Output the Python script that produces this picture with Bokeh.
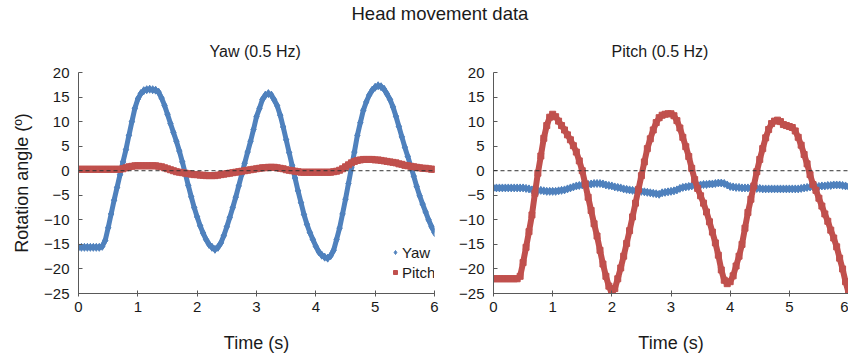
from bokeh.plotting import figure
from bokeh.layouts import column, row
from bokeh.models import Span, Legend, LegendItem, Range1d, FixedTicker
from bokeh.embed import file_html
from bokeh.resources import INLINE

time_s = [round(i * 0.05, 2) for i in range(121)]

yaw_in_yaw_test = [
    -15.6, -15.6, -15.6, -15.6, -15.6, -15.6, -15.6, -15.6, -15.4, -14.2,
    -11.6, -8.8, -6.0, -3.4, -0.8, 1.8, 4.3, 7.2, 10.0, 12.7,
    14.6, 15.7, 16.3, 16.5, 16.6, 16.5, 16.4, 16.0, 14.8, 13.3,
    11.5, 9.6, 7.8, 6.0, 4.0, 1.8, -0.6, -3.0, -5.3, -7.5,
    -9.4, -11.2, -12.7, -14.0, -15.0, -15.6, -16.0, -15.6, -14.7, -13.2,
    -11.4, -9.5, -7.5, -5.4, -3.1, -0.8, 1.5, 3.8, 6.0, 8.4,
    11.0, 12.7, 14.5, 15.4, 15.7, 15.4, 14.4, 13.2, 11.3, 8.9,
    6.3, 3.7, 1.1, -1.5, -4.1, -6.5, -8.9, -10.9, -12.6, -14.0,
    -15.4, -16.5, -17.2, -17.6, -17.8, -17.3, -16.2, -14.0, -11.7, -8.8,
    -5.8, -2.6, 0.6, 3.8, 7.2, 9.8, 12.3, 14.0, 15.4, 16.4,
    17.0, 17.3, 17.1, 16.6, 15.6, 14.5, 13.0, 11.1, 9.0, 6.9,
    4.8, 2.9, 0.9, -1.1, -3.2, -5.1, -6.8, -8.4, -10.0, -11.4,
    -12.6,
]
pitch_in_yaw_test = [
    0.3, 0.3, 0.3, 0.3, 0.3, 0.3, 0.3, 0.3, 0.3, 0.3,
    0.3, 0.3, 0.3, 0.3, 0.3, 0.4, 0.6, 0.8, 0.9, 1.0,
    1.0, 1.0, 1.0, 1.0, 1.0, 1.0, 1.0, 0.9, 0.8, 0.6,
    0.4, 0.2, 0.0, -0.2, -0.3, -0.4, -0.5, -0.6, -0.7, -0.8,
    -0.8, -0.9, -0.9, -1.0, -1.0, -1.0, -1.0, -0.9, -0.8, -0.7,
    -0.6, -0.5, -0.4, -0.3, -0.2, -0.1, 0.0, 0.1, 0.2, 0.3,
    0.4, 0.5, 0.6, 0.6, 0.7, 0.7, 0.7, 0.6, 0.5, 0.4,
    0.2, 0.1, 0.0, -0.1, -0.2, -0.3, -0.3, -0.3, -0.3, -0.3,
    -0.3, -0.3, -0.3, -0.3, -0.3, -0.3, -0.2, -0.1, 0.1, 0.4,
    0.8, 1.2, 1.6, 1.9, 2.1, 2.2, 2.3, 2.3, 2.3, 2.3,
    2.2, 2.2, 2.1, 2.0, 1.9, 1.8, 1.7, 1.6, 1.4, 1.3,
    1.1, 1.0, 0.9, 0.8, 0.7, 0.6, 0.5, 0.5, 0.4, 0.3,
    0.3,
]
yaw_in_pitch_test = [
    -3.5, -3.5, -3.5, -3.5, -3.5, -3.5, -3.5, -3.5, -3.5, -3.5,
    -3.5, -3.6, -3.7, -3.9, -4.1, -4.1, -4.0, -4.1, -4.2, -4.2,
    -4.2, -4.2, -4.1, -4.0, -3.9, -3.7, -3.5, -3.3, -3.1, -3.0,
    -2.9, -2.8, -2.8, -2.7, -2.6, -2.6, -2.6, -2.7, -2.9, -3.0,
    -3.1, -3.3, -3.4, -3.5, -3.7, -3.8, -3.9, -4.0, -4.1, -4.2,
    -4.2, -4.3, -4.4, -4.5, -4.6, -4.7, -4.8, -4.5, -4.4, -4.3,
    -4.2, -4.1, -3.9, -3.6, -3.4, -3.3, -3.2, -3.1, -3.0, -3.0,
    -2.9, -2.8, -2.8, -2.7, -2.7, -2.6, -2.5, -2.5, -2.6, -2.9,
    -3.2, -3.3, -3.4, -3.4, -3.5, -3.5, -3.5, -3.5, -3.6, -3.6,
    -3.6, -3.7, -3.7, -3.7, -3.7, -3.7, -3.7, -3.7, -3.7, -3.7,
    -3.7, -3.7, -3.7, -3.7, -3.6, -3.5, -3.4, -3.3, -3.3, -3.2,
    -3.2, -3.1, -3.1, -3.0, -3.0, -2.9, -2.9, -2.9, -3.0, -3.1,
    -3.2,
]
pitch_in_pitch_test = [
    -22.0, -22.0, -22.0, -22.0, -22.0, -22.0, -22.0, -22.0, -22.0, -21.5,
    -18.7, -15.6, -12.4, -9.0, -4.6, -0.5, 3.0, 6.6, 9.2, 10.9,
    11.5, 11.0, 10.1, 9.2, 8.3, 7.3, 6.3, 5.1, 3.8, 2.0,
    0.0, -2.7, -5.4, -8.1, -10.8, -13.3, -16.2, -19.0, -21.5, -23.5,
    -25.0, -24.0, -22.0, -19.8, -17.4, -14.8, -12.2, -9.4, -6.6, -3.8,
    -1.0, 1.8, 4.5, 6.5, 8.3, 9.8, 10.8, 11.3, 11.5, 11.6,
    11.6, 11.2, 10.2, 8.7, 6.8, 4.9, 2.9, 0.5, -1.8, -3.6,
    -5.1, -6.6, -8.4, -10.4, -12.5, -14.7, -17.2, -20.2, -22.3, -23.0,
    -22.6, -21.4, -19.4, -17.4, -15.0, -11.7, -8.5, -5.8, -3.1, -0.2,
    2.3, 4.5, 6.7, 8.4, 9.6, 10.1, 10.3, 10.0, 9.4, 9.2,
    9.0, 8.8, 8.1, 6.8, 5.2, 3.3, 1.4, -0.8, -2.8, -4.0,
    -5.6, -7.2, -8.8, -10.3, -12.1, -13.7, -15.5, -17.8, -20.0, -22.6,
    -24.8,
]

main_title = "Head movement data"
panel_titles = ["Yaw (0.5 Hz)", "Pitch (0.5 Hz)"]
series_names = ["Yaw", "Pitch"]
x_ticks = [0, 1, 2, 3, 4, 5, 6]
y_ticks = [-25, -20, -15, -10, -5, 0, 5, 10, 15, 20]
x_label = "Time (s)"
y_label = "Rotation angle (º)"

# ---- styles ----
FONT = "Liberation Sans"
BLUE = "#4F81BD"
RED = "#C0504D"
AXIS = "#595959"
TEXT = "#1a1a1a"


def style_panel(p):
    p.grid.visible = False
    p.outline_line_color = None
    p.title.text_font = FONT
    p.title.text_font_size = "16px"
    p.title.text_font_style = "normal"
    p.title.text_color = TEXT
    p.title.align = "left"
    p.title.standoff = 25
    for ax in (p.xaxis[0], p.yaxis[0]):
        ax.axis_line_color = AXIS
        ax.major_tick_line_color = AXIS
        ax.minor_tick_line_color = None
        ax.major_label_text_font = FONT
        ax.major_label_text_font_size = "15px"
        ax.major_label_text_color = TEXT
        ax.axis_label_text_font = FONT
        ax.axis_label_text_font_size = "18px"
        ax.axis_label_text_font_style = "normal"
        ax.axis_label_text_color = TEXT
    p.xaxis.ticker = FixedTicker(ticks=x_ticks)
    p.yaxis.ticker = FixedTicker(ticks=y_ticks)
    p.xaxis.major_tick_in = 3
    p.xaxis.major_tick_out = 3
    p.xaxis.major_label_standoff = 5
    p.xaxis.axis_label = x_label
    p.xaxis.axis_label_standoff = 18
    p.yaxis.major_tick_in = 4
    p.yaxis.major_tick_out = 0
    p.yaxis.major_label_standoff = 9
    p.add_layout(Span(location=0, dimension="width", line_color="#333333",
                      line_width=1, line_dash="4 3"))


def draw(p, yaw, pitch):
    p.line(time_s, yaw, line_color=BLUE, line_width=5)
    r_yaw = p.scatter(time_s, yaw, marker="diamond", size=8,
                      fill_color=BLUE, line_color=BLUE)
    p.line(time_s, pitch, line_color=RED, line_width=6)
    r_pitch = p.scatter(time_s, pitch, marker="square", size=6,
                        fill_color=RED, line_color=RED)
    return r_yaw, r_pitch


HEADER_H = 28
PANEL_H = 357 - HEADER_H
header = figure(width=848, height=HEADER_H, output_backend="svg", toolbar_location=None,
                min_border_left=0, min_border_right=0, min_border_bottom=0,
                min_border_top=5, x_axis_location=None, y_axis_location=None,
                x_range=Range1d(0, 1), y_range=Range1d(0, 1))
header.grid.visible = False
header.outline_line_color = None
header.title.text = main_title
header.title.align = "left"
header.title.offset = 351
header.title.standoff = 1
header.title.text_font = FONT
header.title.text_font_size = "18.5px"
header.title.text_font_style = "normal"
header.title.text_color = TEXT

LEFT_W = 452
TOP = 72 - HEADER_H
left = figure(width=LEFT_W, height=PANEL_H, output_backend="svg", toolbar_location=None,
              x_range=Range1d(0, 6), y_range=Range1d(-25, 20),
              min_border_left=78, min_border_right=LEFT_W - 78 - 356,
              min_border_top=TOP, min_border_bottom=64)
left.title.text = panel_titles[0]
style_panel(left)
left.title.offset = 131
left.yaxis.axis_label = y_label
left.yaxis.axis_label_standoff = 9
ry, rp = draw(left, yaw_in_yaw_test, pitch_in_yaw_test)
legend = Legend(items=[LegendItem(label=series_names[0], renderers=[ry]),
                       LegendItem(label=series_names[1], renderers=[rp])],
                location=(312, 11), border_line_color=None,
                background_fill_alpha=0, label_text_font=FONT,
                label_text_font_size="15px", label_text_color=TEXT,
                glyph_width=10, glyph_height=10, label_standoff=2,
                padding=0, margin=0, spacing=0, label_height=20)
left.add_layout(legend)

right = figure(width=848 - LEFT_W, height=PANEL_H, output_backend="svg",
               toolbar_location=None,
               x_range=Range1d(0, 6), y_range=Range1d(-25, 20),
               min_border_left=493 - LEFT_W, min_border_right=0,
               min_border_top=TOP, min_border_bottom=64)
right.title.text = panel_titles[1]
style_panel(right)
right.title.offset = 118
draw(right, yaw_in_pitch_test, pitch_in_pitch_test)

layout = column(header, row(left, right))
open("out.html", "w").write(file_html(layout, INLINE))
